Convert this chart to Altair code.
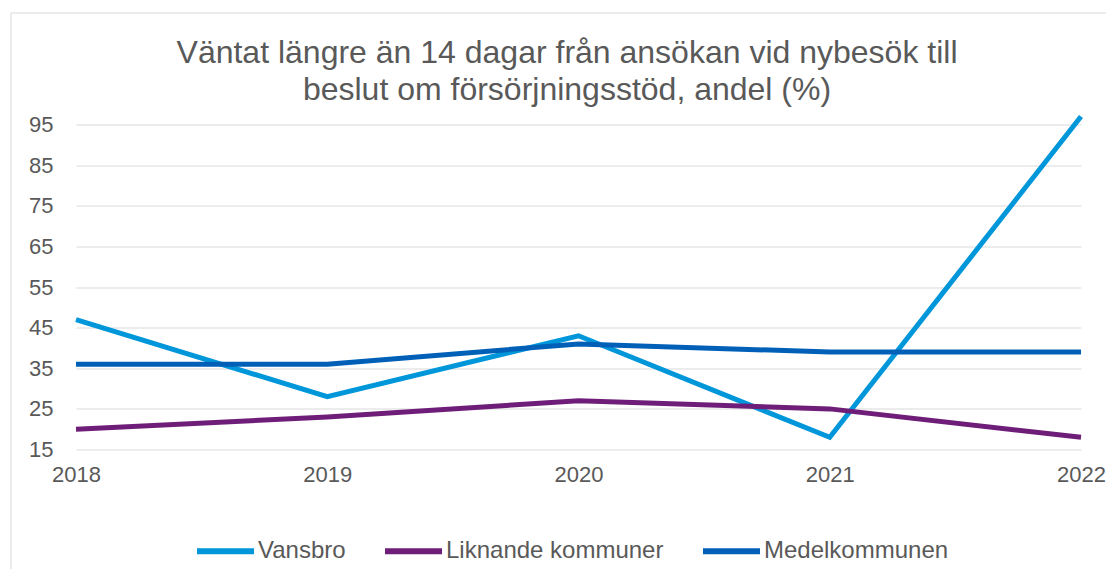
import altair as alt
import pandas as pd

years = ["2018", "2019", "2020", "2021", "2022"]
series_names = ["Vansbro", "Liknande kommuner", "Medelkommunen"]
vansbro = [47, 28, 43, 18, 97]
liknande = [20, 23, 27, 25, 18]
medel = [36, 36, 41, 39, 39]
y_ticks = [15, 25, 35, 45, 55, 65, 75, 85, 95]
colors = ["#0096DA", "#6E1E78", "#0060B8"]
title_lines = ["Väntat längre än 14 dagar från ansökan vid nybesök till",
               "beslut om försörjningsstöd, andel (%)"]

rows = []
for name, vals in zip(series_names, [vansbro, liknande, medel]):
    for i, (yr, v) in enumerate(zip(years, vals)):
        rows.append({"year": yr, "value": v, "series": name, "idx": i})
df = pd.DataFrame(rows)

FONT = "Liberation Sans"
GREY = "#595959"

W, H = 1005, 333

lines = alt.Chart(df).mark_line(strokeWidth=5, strokeCap="butt", strokeJoin="miter").encode(
    x=alt.X("year:O", sort=years,
            scale=alt.Scale(padding=0),
            axis=alt.Axis(title=None, labelAngle=0, ticks=False, domain=False, grid=False,
                          labelFontSize=22, labelColor=GREY, labelFont=FONT, labelPadding=15)),
    y=alt.Y("value:Q",
            scale=alt.Scale(domain=[15, 97], nice=False, zero=False),
            axis=alt.Axis(title=None, values=y_ticks, ticks=False, domain=False,
                          grid=True, gridColor="#D9D9D9", gridWidth=1,
                          labelFontSize=22, labelColor=GREY, labelFont=FONT, labelPadding=23)),
    color=alt.Color("series:N",
                    scale=alt.Scale(domain=series_names, range=colors),
                    legend=alt.Legend(title=None, orient="none", direction="horizontal",
                                      legendX=118, legendY=403,
                                      symbolType="stroke", symbolSize=3249, symbolStrokeWidth=6,
                                      labelFontSize=24, labelColor=GREY, labelFont=FONT,
                                      labelLimit=0, labelOffset=1, columnPadding=27, padding=0)),
    order="idx:Q",
)

one = alt.Data(values=[{"a": 1}])

border = alt.Chart(one).mark_rect(
    fillOpacity=0, stroke="#D9D9D9", strokeWidth=1
).encode(
    x=alt.value(-65), x2=alt.value(1080), y=alt.value(-103.5), y2=alt.value(480)
)

title = alt.Chart(one).mark_text(
    text=title_lines, font=FONT, fontSize=32, color=GREY, lineHeight=37,
    align="center", baseline="alphabetic"
).encode(x=alt.value(491), y=alt.value(-54))

chart = alt.layer(border, title, lines).properties(
    width=W, height=H,
    autosize=alt.AutoSizeParams(type="none"),
    padding={"left": 68, "right": 25, "top": 108.5, "bottom": 119},
).configure(background="white").configure_view(stroke=None)

chart.save("out.html", embed_options={"renderer": "svg", "actions": False})
